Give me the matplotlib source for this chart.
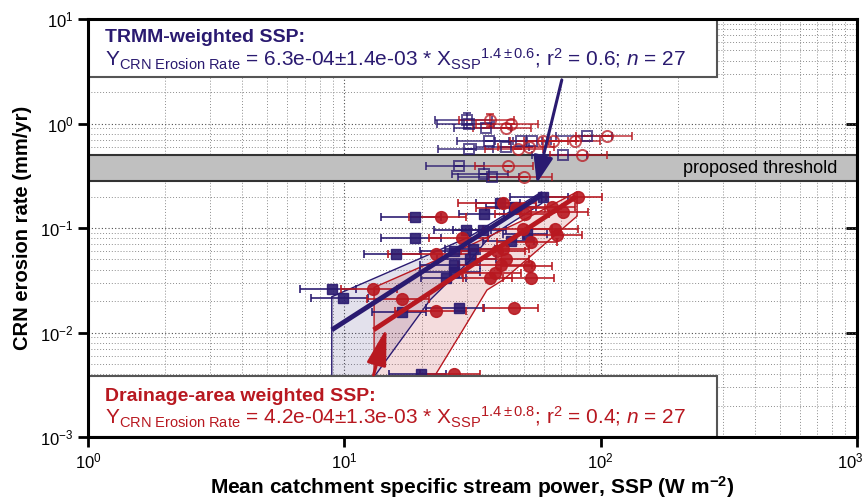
import numpy as np
import matplotlib.pyplot as plt
import matplotlib.transforms as mtransforms
from matplotlib.patches import Rectangle, Polygon

plt.rcParams['font.family'] = ['Liberation Sans', 'DejaVu Sans']
plt.rcParams['mathtext.fontset'] = 'custom'
plt.rcParams['mathtext.rm'] = 'Liberation Sans'
plt.rcParams['mathtext.it'] = 'Liberation Sans:italic'
plt.rcParams['mathtext.bf'] = 'Liberation Sans:bold'

BLUE = '#2a1a70'
RED = '#b81820'

# TRMM-weighted SSP, below threshold (filled squares)
blue_x = [59.4, 40.5, 45.7, 18.9, 34.9, 29.8, 34.6, 18.9, 44.7, 51.5, 15.9, 26.8,
          31.7, 31.0, 26.8, 26.8, 24.9, 8.93, 9.91, 16.8, 27.9, 19.9]
blue_y = [0.197, 0.175, 0.158, 0.128, 0.136, 0.096, 0.096, 0.081, 0.075, 0.087, 0.057, 0.060,
          0.063, 0.050, 0.044, 0.038, 0.033, 0.026, 0.0212, 0.0158, 0.0171, 0.0040]
blue_xerr = [15, 8, 10, 5, 7, 7.5, 8, 5, 10, 10, 4, 7,
             7, 8, 7, 7, 5, 2.2, 2.5, 4, 7, 5]

# TRMM-weighted SSP, above threshold (open squares)
blue_open_x = [30.0, 30.6, 35.7, 36.6, 48.8, 53.8, 30.6, 42.7, 88.7, 71.1, 27.9, 34.9, 37.8]
blue_open_y = [1.08, 1.00, 0.91, 0.68, 0.68, 0.68, 0.567, 0.59, 0.76, 0.50, 0.39, 0.33, 0.31]
blue_open_xerr = [7.5, 7.6, 9, 9, 10, 10, 7.5, 10, 22, 17, 7, 8.5, 10]
blue_open_yerr = [0.17, 0, 0, 0, 0, 0, 0, 0, 0, 0, 0, 0, 0]

# Drainage-area weighted SSP, below threshold (filled circles)
red_x = [81.4, 41.7, 46.6, 64.4, 71.5, 50.7, 23.8, 49.7, 66.4, 67.3, 28.8, 53.5, 39.5,
         41.7, 22.8, 42.7, 40.8, 52.7, 38.7, 36.9, 53.5, 12.9, 16.8, 22.8, 45.7, 26.8]
red_y = [0.197, 0.175, 0.155, 0.158, 0.141, 0.136, 0.128, 0.097, 0.097, 0.086, 0.081, 0.074, 0.060,
         0.063, 0.057, 0.050, 0.044, 0.043, 0.037, 0.033, 0.033, 0.026, 0.021, 0.016, 0.0171, 0.0040]
red_xerr = [20, 14, 14, 15, 18, 12, 6, 15, 15, 17, 7.5, 14, 11,
            11, 8, 10, 13, 12, 10, 8, 12, 3.2, 4.5, 7, 11, 7]

# Drainage-area weighted SSP, above threshold (open circles)
red_open_x = [36.9, 44.7, 42.7, 106, 59.4, 65.4, 79.4, 47.5, 52.7, 84.4, 43.4, 50.4]
red_open_y = [1.08, 1.00, 0.91, 0.76, 0.68, 0.68, 0.68, 0.567, 0.59, 0.50, 0.39, 0.31]
red_open_xerr = [9, 12, 11, 26, 15, 15, 20, 12, 13, 21, 11, 14]
red_open_yerr = [0.15, 0, 0, 0, 0, 0, 0, 0, 0, 0, 0, 0]

# fit lines and confidence bands
blue_fit_x = [8.93, 58.9]
blue_fit_y = [0.0106, 0.207]
blue_band_x = [8.93, 8.93, 19.7, 30.9, 58.9, 58.9, 37.0, 30.9, 21.6, 13.2, 11.8]
blue_band_y = [0.0008, 0.022, 0.051, 0.083, 0.222, 0.172, 0.083, 0.049, 0.0205, 0.0039, 0.0008]

red_fit_x = [13.0, 80.3]
red_fit_y = [0.0106, 0.200]
red_band_x = [13.06, 13.06, 30.0, 48.5, 80.9, 80.9, 41.7, 36.0, 29.0, 22.6, 21.0]
red_band_y = [0.0008, 0.027, 0.066, 0.115, 0.222, 0.13, 0.032, 0.0255, 0.0106, 0.0039, 0.0008]

thr_lo, thr_hi = 0.28, 0.50

fig = plt.figure(figsize=(8.68, 5.03), dpi=100)
ax = fig.add_axes([0.1014, 0.1312, 0.886, 0.831])
ax.set_xscale('log')
ax.set_yscale('log')
ax.set_xlim(1, 1000)
ax.set_ylim(1e-3, 10)

ax.grid(which='major', ls=(0, (1, 2)), color='0.3', lw=0.8)
ax.grid(which='minor', ls=(0, (1, 2)), color='0.55', lw=0.7)

# threshold band
ax.axhspan(thr_lo, thr_hi, facecolor='#c0c0c0', edgecolor='#333333', lw=1.5, zorder=2)
ax.text(838, np.sqrt(thr_lo*thr_hi), 'proposed threshold', ha='right', va='center',
        fontsize=13, zorder=3)

# confidence bands
ax.add_patch(Polygon(list(zip(blue_band_x, blue_band_y)), closed=True,
                     facecolor=BLUE, alpha=0.13, edgecolor='none', zorder=2.2))
ax.add_patch(Polygon(list(zip(blue_band_x, blue_band_y)), closed=True,
                     facecolor='none', edgecolor=BLUE, lw=1, zorder=2.3))
ax.add_patch(Polygon(list(zip(red_band_x, red_band_y)), closed=True,
                     facecolor=RED, alpha=0.15, edgecolor='none', zorder=2.2))
ax.add_patch(Polygon(list(zip(red_band_x, red_band_y)), closed=True,
                     facecolor='none', edgecolor=RED, lw=1, zorder=2.3))

ebkw = dict(ls='none', capsize=3, elinewidth=1.3, capthick=1.3, zorder=3)
ax.errorbar(blue_open_x, blue_open_y, xerr=blue_open_xerr, yerr=blue_open_yerr,
            fmt='s', ms=7, mfc='none', mec=BLUE, mew=1.4, color=BLUE, alpha=0.75, **ebkw)
ax.errorbar(red_open_x, red_open_y, xerr=red_open_xerr, yerr=red_open_yerr,
            fmt='o', ms=8, mfc='none', mec=RED, mew=1.4, color=RED, alpha=0.75, **ebkw)
ax.errorbar(blue_x, blue_y, xerr=blue_xerr, fmt='s', ms=7.5, mfc=BLUE, mec=BLUE,
            color=BLUE, alpha=0.9, **ebkw)
ax.errorbar(red_x, red_y, xerr=red_xerr, fmt='o', ms=8.5, mfc=RED, mec=RED,
            color=RED, alpha=0.9, **ebkw)

ax.plot(blue_fit_x, blue_fit_y, color=BLUE, lw=3.5, zorder=4, solid_capstyle='butt')
ax.plot(red_fit_x, red_fit_y, color=RED, lw=3.5, zorder=4, solid_capstyle='butt')

# text boxes
ax.add_patch(Rectangle((1, 2.79), 283, 10 - 2.79, facecolor='white',
                       edgecolor='#555555', lw=1.5, zorder=5))
ax.add_patch(Rectangle((1, 1e-3), 283, 0.00384 - 1e-3, facecolor='white',
                       edgecolor='#555555', lw=1.5, zorder=5))

ax.text(0.022, 0.944, 'TRMM-weighted SSP:', transform=ax.transAxes, color=BLUE,
        fontsize=14, fontweight='bold', va='baseline', zorder=6)
ax.text(0.022, 0.886,
        r'Y$_{\mathrm{CRN\ Erosion\ Rate}}$ = 6.3e-04±1.4e-03 * X$_{\mathrm{SSP}}$$^{\mathrm{1.4\pm0.6}}$; r$^{\mathrm{2}}$ = 0.6; $n$ = 27',
        transform=ax.transAxes, color=BLUE, fontsize=15, va='baseline', zorder=6)
ax.text(0.022, 0.087, 'Drainage-area weighted SSP:', transform=ax.transAxes, color=RED,
        fontsize=14, fontweight='bold', va='baseline', zorder=6)
ax.text(0.022, 0.031,
        r'Y$_{\mathrm{CRN\ Erosion\ Rate}}$ = 4.2e-04±1.3e-03 * X$_{\mathrm{SSP}}$$^{\mathrm{1.4\pm0.8}}$; r$^{\mathrm{2}}$ = 0.4; $n$ = 27',
        transform=ax.transAxes, color=RED, fontsize=15, va='baseline', zorder=6)

# arrows
ax.annotate('', xy=(56.3, 0.268), xytext=(70.5, 2.61),
            arrowprops=dict(arrowstyle='-|>,head_length=1.1,head_width=0.4',
                            mutation_scale=15, color=BLUE, lw=2.2,
                            shrinkA=0, shrinkB=0), zorder=6)
ax.annotate('', xy=(14.6, 0.011), xytext=(13.0, 0.00392),
            arrowprops=dict(arrowstyle='-|>,head_length=1.5,head_width=0.4',
                            mutation_scale=15, color=RED, lw=2.2,
                            shrinkA=0, shrinkB=0), zorder=6)

for s in ax.spines.values():
    s.set_linewidth(2.2)
    s.set_zorder(7)
ax.tick_params(which='major', direction='out', length=7, width=2, labelsize=12)
ax.tick_params(which='minor', length=0)

sy = ax.secondary_yaxis('right')
sy.tick_params(which='major', direction='in', length=8, width=2, labelright=False)
sy.tick_params(which='minor', length=0)
sx = ax.secondary_xaxis('top')
sx.tick_params(which='major', direction='in', length=8, width=2, labeltop=False)
sx.tick_params(which='minor', length=0)

ax.set_xlabel(r'Mean catchment specific stream power, SSP (W m$^{\mathbf{-2}}$)',
              fontsize=15, fontweight='bold', labelpad=2)
ax.set_ylabel('CRN erosion rate (mm/yr)', fontsize=14.5, fontweight='bold', labelpad=6)

# keep the last x tick label inside the figure
fig.canvas.draw()
shift = mtransforms.ScaledTranslation(-5/72, 0, fig.dpi_scale_trans)
for lab in ax.get_xticklabels():
    if '{3}' in lab.get_text():
        lab.set_transform(lab.get_transform() + shift)

fig.savefig('out.png', dpi=100)
